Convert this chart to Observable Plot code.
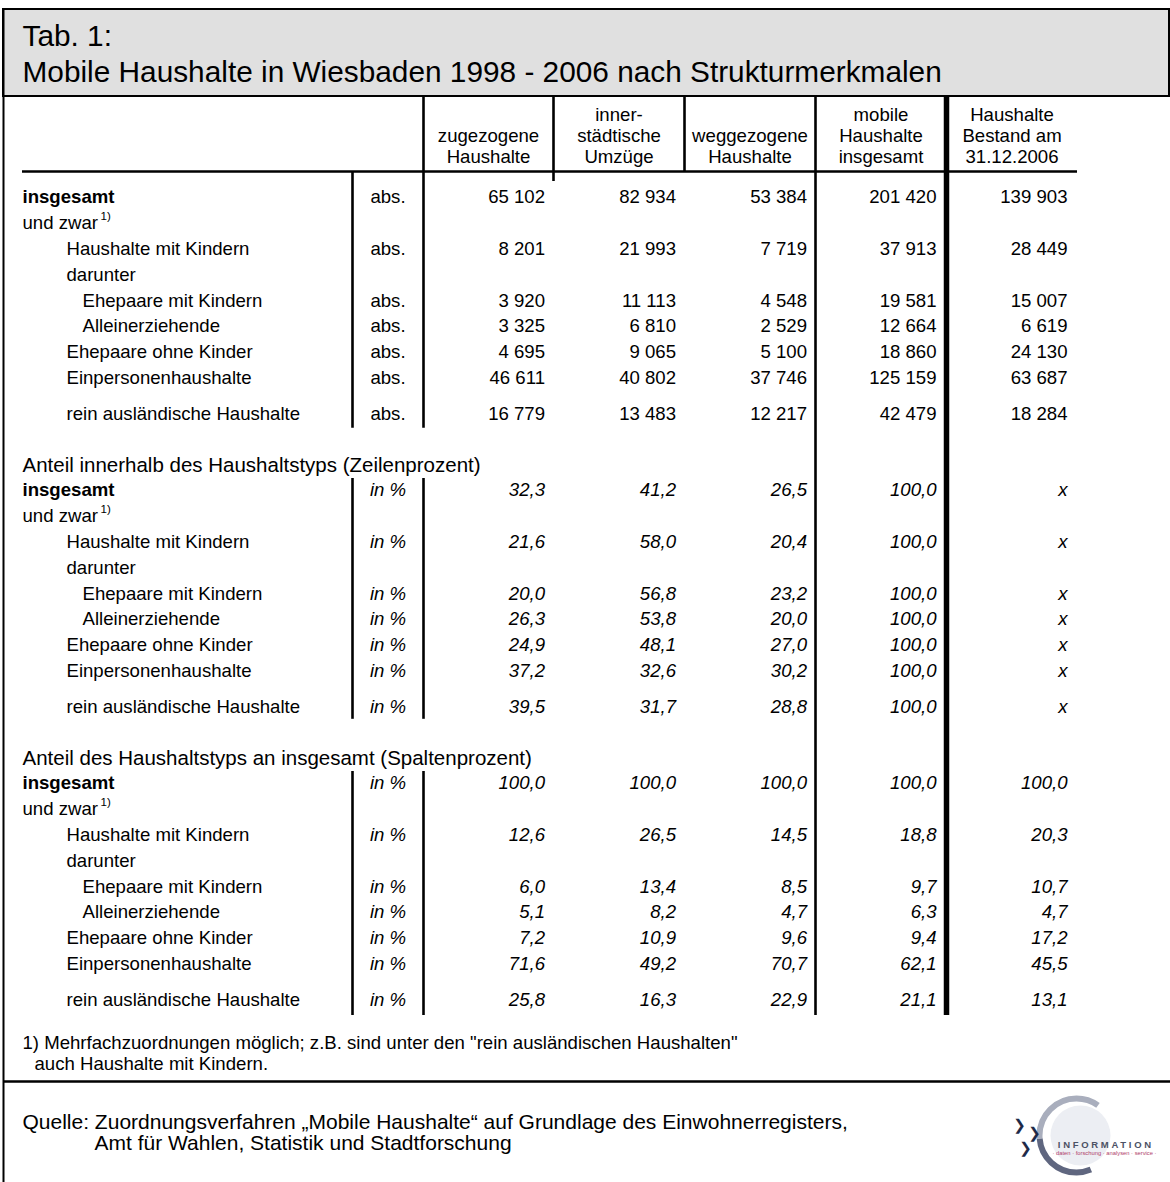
<!DOCTYPE html>
<html>
<head>
<meta charset="utf-8">
<script src="https://cdn.jsdelivr.net/npm/d3@7"></script>
<script src="https://cdn.jsdelivr.net/npm/@observablehq/plot@0.6"></script>
<style>
  body { margin: 0; background: #fff; }
  #chart svg { display: block; }
</style>
</head>
<body>
<div id="chart"></div>
<script>
// ---------- DATA ----------
const titleLines = ["Tab. 1:", "Mobile Haushalte in Wiesbaden 1998 - 2006 nach Strukturmerkmalen"];

const columnHeaders = [
  ["zugezogene", "Haushalte"],
  ["inner-", "städtische", "Umzüge"],
  ["weggezogene", "Haushalte"],
  ["mobile", "Haushalte", "insgesamt"],
  ["Haushalte", "Bestand am", "31.12.2006"]
];

const rowLabels = [
  "insgesamt", "und zwar", "Haushalte mit Kindern", "darunter",
  "Ehepaare mit Kindern", "Alleinerziehende", "Ehepaare ohne Kinder",
  "Einpersonenhaushalte", "rein ausländische Haushalte"
];
const rowLevels = [0, 0, 1, 1, 2, 2, 1, 1, 1];

const sectionTitles = [
  null,
  "Anteil innerhalb des Haushaltstyps (Zeilenprozent)",
  "Anteil des Haushaltstyps an insgesamt (Spaltenprozent)"
];
const sectionUnits = ["abs.", "in %", "in %"];

// absolute numbers (null = row without values)
const absoluteValues = [
  [65102, 82934, 53384, 201420, 139903],
  null,
  [8201, 21993, 7719, 37913, 28449],
  null,
  [3920, 11113, 4548, 19581, 15007],
  [3325, 6810, 2529, 12664, 6619],
  [4695, 9065, 5100, 18860, 24130],
  [46611, 40802, 37746, 125159, 63687],
  [16779, 13483, 12217, 42479, 18284]
];

// row percentages (last column not applicable -> "x")
const rowPercent = [
  [32.3, 41.2, 26.5, 100.0, "x"],
  null,
  [21.6, 58.0, 20.4, 100.0, "x"],
  null,
  [20.0, 56.8, 23.2, 100.0, "x"],
  [26.3, 53.8, 20.0, 100.0, "x"],
  [24.9, 48.1, 27.0, 100.0, "x"],
  [37.2, 32.6, 30.2, 100.0, "x"],
  [39.5, 31.7, 28.8, 100.0, "x"]
];

// column percentages
const columnPercent = [
  [100.0, 100.0, 100.0, 100.0, 100.0],
  null,
  [12.6, 26.5, 14.5, 18.8, 20.3],
  null,
  [6.0, 13.4, 8.5, 9.7, 10.7],
  [5.1, 8.2, 4.7, 6.3, 4.7],
  [7.2, 10.9, 9.6, 9.4, 17.2],
  [71.6, 49.2, 70.7, 62.1, 45.5],
  [25.8, 16.3, 22.9, 21.1, 13.1]
];

const footnoteLines = [
  "1) Mehrfachzuordnungen möglich; z.B. sind unter den \"rein ausländischen Haushalten\"",
  "auch Haushalte mit Kindern."
];
const sourceLines = [
  "Quelle: Zuordnungsverfahren „Mobile Haushalte“ auf Grundlage des Einwohnerregisters,",
  "Amt für Wahlen, Statistik und Stadtforschung"
];
const logoText = "INFORMATION";
const logoSubText = "· daten · forschung · analysen · service ·";
const logoChevrons = ["❯", "❯", "❯"];

// ---------- LAYOUT ----------
const W = 1170, H = 1182;
const FONT = "'Liberation Sans', Arial, Helvetica, sans-serif";
const L = {
  frameLeft: 3, frameRight: 1169, frameTop: 9,
  titleBottom: 96, titleY: 36, titleStep: 36, titleSize: 29.8,
  labelX: 22, indent: [22, 66, 82],
  unitLine: 352, colEdges: [423, 553, 684, 815, 946, 1077],
  headerLineY: 171, headerRows: [115, 136, 157],
  sectionTop: 197, sectionStep: 293, rowStep: 25.8, lastRowExtra: 10.4,
  sectionHeadOffset: -25, sectionHeadSize: 20.5,
  tableBottom: 1015,
  footY: [1043, 1064], footX: [22, 34], footSize: 18.6,
  sepY: 1081,
  srcY: [1122, 1143], srcX: [22, 94], srcSize: 21,
  bodySize: 18.6,
  logo: {cx: 1076, cy: 1135, r: 37}
};

const rowOffset = i => i * L.rowStep + (i === 8 ? L.lastRowExtra : 0);
const rowY = (s, i) => L.sectionTop + s * L.sectionStep + rowOffset(i);
const colCenter = j => (L.colEdges[j] + L.colEdges[j + 1]) / 2;
const colRight = j => L.colEdges[j + 1] - (j >= 3 ? 10 : 8.5);

const fmtInt = n => String(n).replace(/\B(?=(\d{3})+(?!\d))/g, " ");
const fmtPct = v => typeof v === "string" ? v : v.toFixed(1).replace(".", ",");

// ---------- TABLE RECORDS ----------
const sections = [absoluteValues, rowPercent, columnPercent];
const labelCells = [], unitCells = [], valueCells = [], sectionHeads = [];
sections.forEach((values, s) => {
  if (sectionTitles[s]) sectionHeads.push({text: sectionTitles[s], x: L.labelX, y: rowY(s, 0) + L.sectionHeadOffset});
  rowLabels.forEach((label, i) => {
    labelCells.push({text: label, x: L.indent[rowLevels[i]], y: rowY(s, i), bold: i === 0, sup: i === 1});
    const row = values[i];
    if (!row) return;
    unitCells.push({text: sectionUnits[s], x: (L.unitLine + L.colEdges[0]) / 2, y: rowY(s, i), italic: s > 0});
    row.forEach((v, j) => {
      valueCells.push({text: s === 0 ? fmtInt(v) : fmtPct(v), x: colRight(j), y: rowY(s, i), italic: s > 0});
    });
  });
});

const headerCells = [];
columnHeaders.forEach((lines, j) => {
  const start = L.headerRows.length - lines.length;
  lines.forEach((t, k) => headerCells.push({text: t, x: colCenter(j), y: L.headerRows[start + k]}));
});

// rules
const segBounds = [
  [L.headerLineY, rowY(0, 8) + 14],
  [rowY(1, 0) - 12, rowY(1, 8) + 12],
  [rowY(2, 0) - 12, L.tableBottom]
];
const vRules = [];
segBounds.forEach(([a, b], k) => {
  vRules.push({x: L.unitLine, y1: a, y2: b, w: 2.6});
  vRules.push({x: L.colEdges[0], y1: k === 0 ? L.titleBottom : a, y2: b, w: 2.6});
});
vRules.push({x: L.colEdges[1], y1: L.titleBottom, y2: L.headerLineY + 10, w: 2.6});
vRules.push({x: L.colEdges[2], y1: L.titleBottom, y2: L.headerLineY + 1, w: 2.6});
vRules.push({x: L.colEdges[3], y1: L.titleBottom, y2: L.tableBottom, w: 2.6});
vRules.push({x: L.colEdges[4], y1: L.titleBottom, y2: L.tableBottom, w: 5.5});

// logo arcs (dash pattern on circle stroke; angles in degrees, clockwise from 3 o'clock)
const circ = 2 * Math.PI * L.logo.r, perDeg = circ / 360;
const arc = (a0, a1) => ({dash: `${(a1 - a0) * perDeg} ${circ}`, offset: -a0 * perDeg});
const arcDark = arc(67, 175), arcLight = arc(175, 305);

const bold = labelCells.filter(d => d.bold), normal = labelCells.filter(d => !d.bold);
const upright = valueCells.filter(d => !d.italic), slanted = valueCells.filter(d => d.italic);
const unitsUp = unitCells.filter(d => !d.italic), unitsIt = unitCells.filter(d => d.italic);

// ---------- PLOT ----------
const txt = (data, opts) => Plot.text(data, {x: "x", y: "y", text: "text", fill: "#000", fontSize: L.bodySize, ...opts});

const chart = Plot.plot({
  width: W, height: H,
  margin: 0,
  x: {domain: [0, W], range: [0, W], axis: null},
  y: {domain: [0, H], range: [0, H], axis: null},
  style: {background: "#fff", fontFamily: FONT},
  marks: [
    // title box + frame
    Plot.rect([{}], {x1: L.frameLeft, x2: L.frameRight, y1: L.frameTop, y2: L.titleBottom, fill: "#e0e0e0", stroke: "#000", strokeWidth: 2}),
    Plot.ruleX([L.frameLeft], {y1: L.frameTop, y2: H, stroke: "#000", strokeWidth: 2}),
    Plot.text(titleLines, {x: L.labelX, y: (d, i) => L.titleY + i * L.titleStep, text: d => d, textAnchor: "start", fontSize: L.titleSize, fill: "#000"}),

    // header
    txt(headerCells, {textAnchor: "middle"}),
    Plot.ruleY([L.headerLineY], {x1: L.labelX, x2: L.colEdges[5], stroke: "#000", strokeWidth: 2.6}),

    // vertical rules
    Plot.ruleX(vRules, {x: "x", y1: "y1", y2: "y2", strokeWidth: "w", stroke: "#000"}),

    // row labels
    txt(normal, {textAnchor: "start"}),
    txt(bold, {textAnchor: "start", fontWeight: "bold"}),
    Plot.text(labelCells.filter(d => d.sup), {x: d => d.x + 78, y: d => d.y - 7, text: () => "1)", textAnchor: "start", fontSize: 11.5, fill: "#000"}),
    txt(sectionHeads, {textAnchor: "start", fontSize: L.sectionHeadSize}),

    // units and values
    txt(unitsUp, {textAnchor: "middle"}),
    txt(unitsIt, {textAnchor: "middle", fontStyle: "italic"}),
    txt(upright, {textAnchor: "end"}),
    txt(slanted, {textAnchor: "end", fontStyle: "italic"}),

    // footnote
    Plot.text(footnoteLines, {x: (d, i) => L.footX[i], y: (d, i) => L.footY[i], text: d => d, textAnchor: "start", fontSize: L.footSize, fill: "#000"}),
    Plot.ruleY([L.sepY], {x1: L.frameLeft, x2: W, stroke: "#000", strokeWidth: 2.6}),

    // source
    Plot.text(sourceLines, {x: (d, i) => L.srcX[i], y: (d, i) => L.srcY[i], text: d => d, textAnchor: "start", fontSize: L.srcSize, fill: "#000"}),

    // logo
    Plot.dot([{}], {x: L.logo.cx + 4, y: L.logo.cy, r: 30, fill: "#eceef3", stroke: "none"}),
    Plot.dot([{}], {x: L.logo.cx, y: L.logo.cy, r: L.logo.r, fill: "none", stroke: "#5f667f", strokeWidth: 6, strokeDasharray: arcDark.dash, strokeDashoffset: arcDark.offset}),
    Plot.dot([{}], {x: L.logo.cx, y: L.logo.cy, r: L.logo.r, fill: "none", stroke: "#a9aebd", strokeWidth: 6, strokeDasharray: arcLight.dash, strokeDashoffset: arcLight.offset}),
    Plot.text(logoChevrons, {x: (d, i) => L.logo.cx + [-57, -42, -51][i], y: (d, i) => L.logo.cy + [-10, -2, 13][i], text: d => d, fontSize: 15, fontFamily: "'DejaVu Sans', sans-serif", fill: "#1e2a48"}),
    Plot.text([logoText], {x: L.logo.cx + 28, y: L.logo.cy + 9, text: d => d, fontSize: 9.5, fontWeight: "bold", fill: "#4c5264"}),
    Plot.text([logoSubText], {x: L.logo.cx + 28, y: L.logo.cy + 18, text: d => d, fontSize: 5.8, fill: "#b0406a"})
  ]
});
d3.select(chart).selectAll("text").filter(function () { return this.textContent === logoText; })
  .attr("letter-spacing", "2.7px").attr("dx", "1.3");
document.getElementById("chart").appendChild(chart);
</script>
</body>
</html>
